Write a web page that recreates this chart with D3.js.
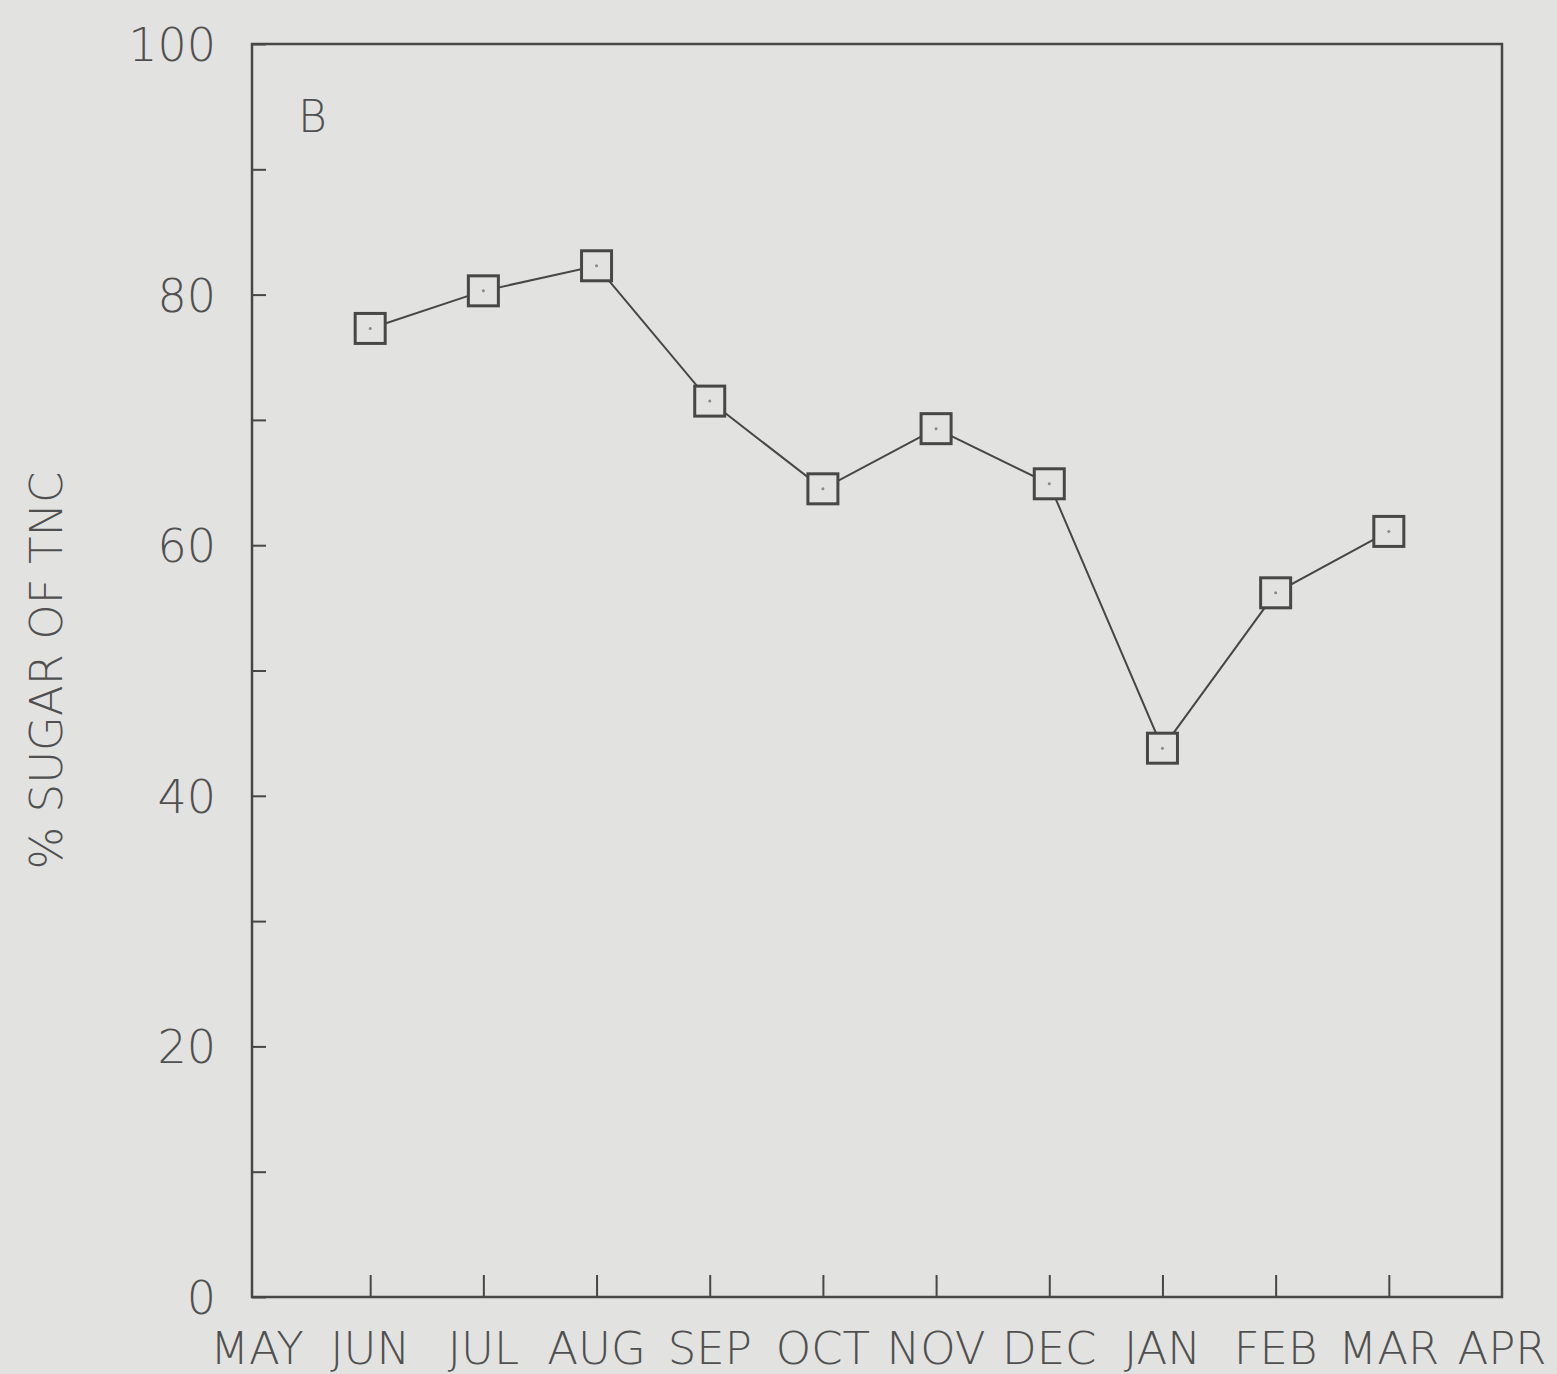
<!DOCTYPE html>
<html>
<head>
<meta charset="utf-8">
<script src="https://cdn.jsdelivr.net/npm/d3@7"></script>
<style>
  body { margin: 0; background: #e2e2e0; }
  svg { display: block; }
  text { font-family: "DejaVu Sans", "Liberation Sans", sans-serif; font-weight: 200; fill: #505050; }
</style>
</head>
<body>
<script>
const months = ['MAY', 'JUN', 'JUL', 'AUG', 'SEP', 'OCT', 'NOV', 'DEC', 'JAN', 'FEB', 'MAR', 'APR'];
const sampleMonths = ['JUN', 'JUL', 'AUG', 'SEP', 'OCT', 'NOV', 'DEC', 'JAN', 'FEB', 'MAR'];
const sugarPct = [77.3, 80.3, 82.3, 71.5, 64.5, 69.3, 64.9, 43.8, 56.2, 61.1];
const yTickLabels = [0, 20, 40, 60, 80, 100];
const yMinorTicks = [10, 30, 50, 70, 90];

const W = 1557, H = 1374;
const box = { left: 252, right: 1502, top: 44, bottom: 1297 };

const svg = d3.select('body').append('svg')
    .attr('width', W)
    .attr('height', H);

const x = d3.scalePoint()
    .domain(months)
    .range([box.left + 5, box.right]);

const y = d3.scaleLinear()
    .domain([0, 100])
    .range([box.bottom, box.top]);

const ink = '#474747';

// frame
svg.append('rect')
    .attr('x', box.left)
    .attr('y', box.top)
    .attr('width', box.right - box.left)
    .attr('height', box.bottom - box.top)
    .attr('fill', 'none')
    .attr('stroke', ink)
    .attr('stroke-width', 2.5);

// y ticks (inside)
const yAxis = svg.append('g')
    .attr('transform', `translate(${box.left},0)`)
    .call(d3.axisRight(y).tickValues(yTickLabels.concat(yMinorTicks)).tickSize(14).tickFormat(''));
yAxis.select('.domain').remove();
yAxis.selectAll('line').attr('stroke', ink).attr('stroke-width', 2);

// y labels
svg.append('g').selectAll('text')
    .data(yTickLabels)
    .enter().append('text')
    .attr('x', 216)
    .attr('y', d => y(d) + 17)
    .attr('text-anchor', 'end')
    .style('font-size', '46px')
    .text(d => d);

// x ticks (inside, pointing up)
const xAxis = svg.append('g')
    .attr('transform', `translate(0,${box.bottom})`)
    .call(d3.axisTop(x).tickValues(sampleMonths).tickSize(22).tickFormat(''));
xAxis.select('.domain').remove();
xAxis.selectAll('line').attr('stroke', ink).attr('stroke-width', 2);

// x labels
svg.append('g').selectAll('text')
    .data(months)
    .enter().append('text')
    .attr('x', d => x(d))
    .attr('y', 1364)
    .attr('text-anchor', 'middle')
    .style('font-size', '45px')
    .text(d => d);

// y title
svg.append('text')
    .attr('transform', `translate(62,${(box.top + box.bottom) / 2}) rotate(-90)`)
    .attr('text-anchor', 'middle')
    .style('font-size', '45px')
    .text('% SUGAR OF TNC');

// panel letter
svg.append('text')
    .attr('x', 298)
    .attr('y', 132)
    .style('font-size', '44px')
    .text('B');

// line
const points = sampleMonths.map((m, i) => ({ m: m, v: sugarPct[i] }));
const line = d3.line()
    .x(d => x(d.m))
    .y(d => y(d.v));

svg.append('path')
    .datum(points)
    .attr('d', line)
    .attr('fill', 'none')
    .attr('stroke', ink)
    .attr('stroke-width', 2);

// square markers
const s = 30;
const markers = svg.append('g').selectAll('g')
    .data(points)
    .enter().append('g')
    .attr('transform', d => `translate(${x(d.m)},${y(d.v)})`);

markers.append('rect')
    .attr('x', -s / 2)
    .attr('y', -s / 2)
    .attr('width', s)
    .attr('height', s)
    .attr('fill', '#e2e2e0')
    .attr('stroke', ink)
    .attr('stroke-width', 3);

markers.append('circle')
    .attr('r', 1.5)
    .attr('fill', '#888');
</script>
</body>
</html>
